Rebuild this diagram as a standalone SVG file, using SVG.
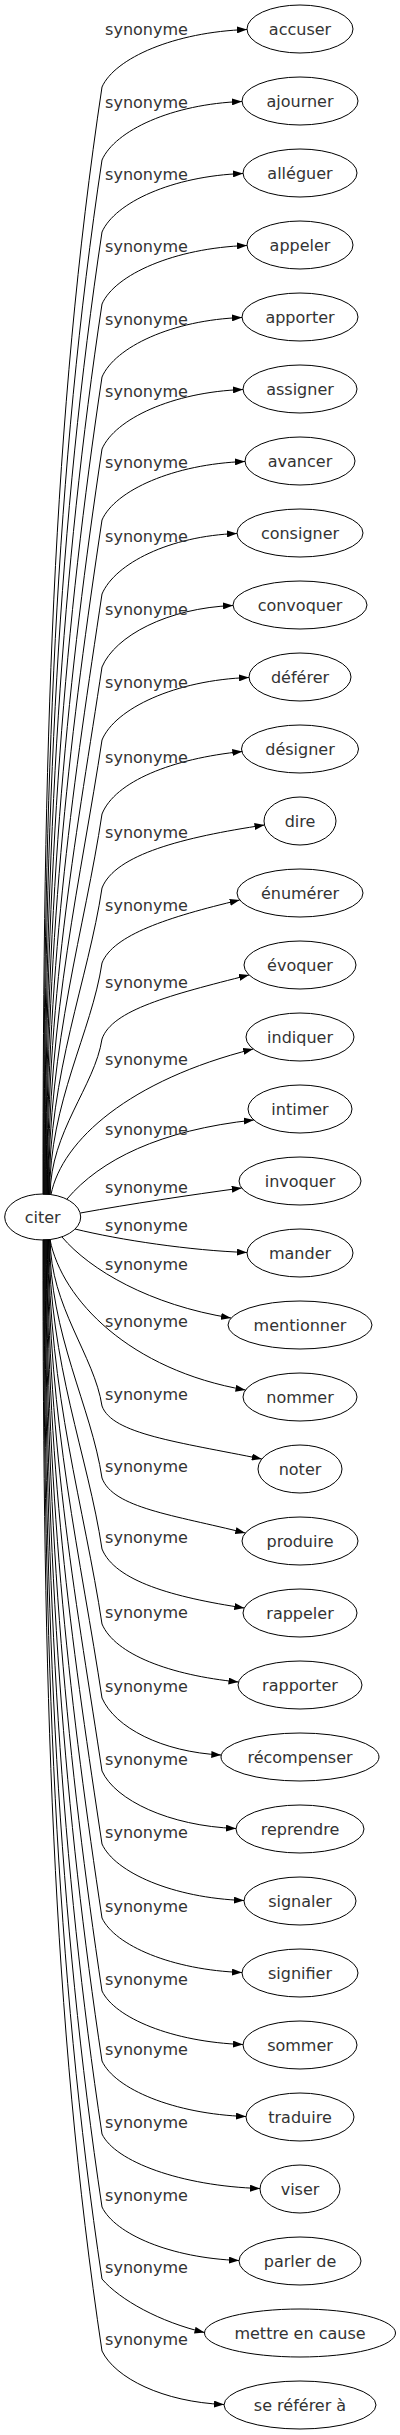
<svg xmlns="http://www.w3.org/2000/svg" width="400" height="2435" viewBox="0 0 400 2435">
<style>
.n{fill:none;stroke:#000;stroke-width:1}
.e{fill:none;stroke:#000;stroke-width:1;marker-end:url(#ah)}
text{font-family:"DejaVu Sans","Liberation Sans",sans-serif;font-size:16px;fill:#333;text-anchor:middle}
</style>
<defs>
<marker id="ah" markerWidth="10" markerHeight="7" refX="10" refY="3.5" orient="auto" markerUnits="userSpaceOnUse"><path d="M0,0 L10,3.5 L0,7 z" fill="#000"/></marker>
</defs>
<rect width="400" height="2435" fill="#fff"/>
<g id="edges">
<path class="e" d="M43,1194.5 C43,751.5 52.2,419 102,87 C115,58 174.5,32 247,29.5"/>
<path class="e" d="M43.6,1194.5 C43.6,780.7 55.4,470.4 102,160 C115,130.5 172,104 242,101.5"/>
<path class="e" d="M44.1,1194.5 C44.1,809.5 58.7,520.8 102,232 C115,202.5 172.5,176 243,173.5"/>
<path class="e" d="M44.7,1194.5 C44.7,838.3 61.9,571.2 102,304 C115,274.5 174.5,248 247,245.5"/>
<path class="e" d="M45.2,1194.5 C45.2,867.5 65.2,622.3 102,377 C115,347 172,320 242,317.5"/>
<path class="e" d="M45.8,1194.5 C45.8,896.3 68.5,672.7 102,449 C115,419 172.5,392 243,389.5"/>
<path class="e" d="M46.3,1194.5 C46.3,924.7 71.6,722.4 102,520 C115,490.5 173.5,464 245,461.5"/>
<path class="e" d="M46.9,1194.5 C46.9,954.3 75,774.2 102,594 C115,563.5 169.5,536 237,533.5"/>
<path class="e" d="M47.4,1194.5 C47.4,983.5 78.3,825.3 102,667 C115,636 167.5,608 233,605.5"/>
<path class="e" d="M48,1194.5 C48,1012.7 81.5,876.4 102,740 C115,708.5 175.5,680 249,677.5"/>
<path class="e" d="M48.5,1194.5 C48.5,1042.3 84.9,928.2 102,814 C115,781.5 172.2,758.5 242.3,751.5"/>
<path class="e" d="M49.1,1194.5 C49.1,1071.9 88.2,980 102,888 C115,854.5 183.3,837.2 264.5,825"/>
<path class="e" d="M49.6,1194.5 C49.6,1101.9 91.6,1032.5 102,963 C113,935 168,917 239.7,900"/>
<path class="e" d="M50.2,1194.5 C50.2,1132.3 95,1085.7 102,1039 C112,1010 170,995 249,975"/>
<path class="e" d="M51,1194.5 C62,1140 130,1080 253.2,1049"/>
<path class="e" d="M67,1199 C100,1160 160,1130 253.8,1120"/>
<path class="e" d="M80.4,1213 C130,1204 190,1195 241.7,1188"/>
<path class="e" d="M75,1229 C120,1240 190,1250.5 247,1252.5"/>
<path class="e" d="M62,1237 C90,1270 150,1305 231,1318"/>
<path class="e" d="M50,1239.6 C62,1300 130,1370 245.5,1390"/>
<path class="e" d="M50.2,1239.5 C50.2,1306.1 94.5,1356 102,1406 C112,1434 178,1442 261.8,1459"/>
<path class="e" d="M49.6,1239.5 C49.6,1334.9 91.3,1406.4 102,1478 C113,1508 173.7,1515 245.3,1533"/>
<path class="e" d="M49.1,1239.5 C49.1,1363.3 88.1,1456.1 102,1549 C115,1581 173.2,1597.3 244.3,1608"/>
<path class="e" d="M48.5,1239.5 C48.5,1393.3 84.7,1508.6 102,1624 C115,1654.5 170.3,1675.2 238.5,1682"/>
<path class="e" d="M48,1239.5 C48,1422.9 81.4,1560.4 102,1698 C115,1727.5 161.7,1752 221.3,1755"/>
<path class="e" d="M47.4,1239.5 C47.4,1452.1 78.1,1611.5 102,1771 C115,1800 169,1826 236,1828.5"/>
<path class="e" d="M46.9,1239.5 C46.9,1481.3 74.8,1662.6 102,1844 C115,1872.5 173,1898 244,1900.5"/>
<path class="e" d="M46.3,1239.5 C46.3,1510.9 71.5,1714.4 102,1918 C115,1945.5 172,1970 242,1972.5"/>
<path class="e" d="M45.8,1239.5 C45.8,1540.1 68.2,1765.5 102,1991 C115,2018 172.5,2042 243,2044.5"/>
<path class="e" d="M45.2,1239.5 C45.2,1568.1 65,1814.5 102,2061 C115,2089 174,2114 246,2116.5"/>
<path class="e" d="M44.7,1239.5 C44.7,1597.3 61.7,1865.6 102,2134 C115,2161.5 181,2186 260,2188.5"/>
<path class="e" d="M44.1,1239.5 C44.1,1626.5 58.5,1916.7 102,2207 C115,2234 170.5,2258 239,2260.5"/>
<path class="e" d="M43.6,1239.5 C43.6,1655.3 55.2,1967.1 102,2279 C120,2300 160,2322 204.5,2332.5"/>
<path class="e" d="M43,1239.5 C43,1684.1 52,2017.5 102,2351 C115,2378 163,2402 224,2404.5"/>
<g id="edge-labels">
<text x="146.5" y="34.5">synonyme</text>
<text x="146.5" y="107.5">synonyme</text>
<text x="146.5" y="179.5">synonyme</text>
<text x="146.5" y="251.5">synonyme</text>
<text x="146.5" y="324.5">synonyme</text>
<text x="146.5" y="396.5">synonyme</text>
<text x="146.5" y="467.5">synonyme</text>
<text x="146.5" y="541.5">synonyme</text>
<text x="146.5" y="614.5">synonyme</text>
<text x="146.5" y="687.5">synonyme</text>
<text x="146.5" y="762.5">synonyme</text>
<text x="146.5" y="837.5">synonyme</text>
<text x="146.5" y="911">synonyme</text>
<text x="146.5" y="987.5">synonyme</text>
<text x="146.5" y="1064.5">synonyme</text>
<text x="146.5" y="1134.5">synonyme</text>
<text x="146.5" y="1192.5">synonyme</text>
<text x="146.5" y="1230.5">synonyme</text>
<text x="146.5" y="1269.5">synonyme</text>
<text x="146.5" y="1326.5">synonyme</text>
<text x="146.5" y="1399.5">synonyme</text>
<text x="146.5" y="1471.5">synonyme</text>
<text x="146.5" y="1542.5">synonyme</text>
<text x="146.5" y="1617.5">synonyme</text>
<text x="146.5" y="1691.5">synonyme</text>
<text x="146.5" y="1764.5">synonyme</text>
<text x="146.5" y="1837.5">synonyme</text>
<text x="146.5" y="1911.5">synonyme</text>
<text x="146.5" y="1984.5">synonyme</text>
<text x="146.5" y="2054.5">synonyme</text>
<text x="146.5" y="2127.5">synonyme</text>
<text x="146.5" y="2200.5">synonyme</text>
<text x="146.5" y="2272.5">synonyme</text>
<text x="146.5" y="2344.5">synonyme</text>
</g>
</g>
<g id="node-citer"><ellipse class="n" cx="42.7" cy="1217" rx="38" ry="23"/><text x="42.7" y="1222.5">citer</text></g>
<g id="node-accuser"><ellipse class="n" cx="300" cy="29" rx="53" ry="24"/><text x="300" y="34.5">accuser</text></g>
<g id="node-ajourner"><ellipse class="n" cx="300" cy="101" rx="58" ry="24"/><text x="300" y="106.5">ajourner</text></g>
<g id="node-alleguer"><ellipse class="n" cx="300" cy="173" rx="57" ry="24"/><text x="300" y="178.5">alléguer</text></g>
<g id="node-appeler"><ellipse class="n" cx="300" cy="245" rx="53" ry="24"/><text x="300" y="250.5">appeler</text></g>
<g id="node-apporter"><ellipse class="n" cx="300" cy="317" rx="58" ry="24"/><text x="300" y="322.5">apporter</text></g>
<g id="node-assigner"><ellipse class="n" cx="300" cy="389" rx="57" ry="24"/><text x="300" y="394.5">assigner</text></g>
<g id="node-avancer"><ellipse class="n" cx="300" cy="461" rx="55" ry="24"/><text x="300" y="466.5">avancer</text></g>
<g id="node-consigner"><ellipse class="n" cx="300" cy="533" rx="63" ry="24"/><text x="300" y="538.5">consigner</text></g>
<g id="node-convoquer"><ellipse class="n" cx="300" cy="605" rx="67" ry="24"/><text x="300" y="610.5">convoquer</text></g>
<g id="node-deferer"><ellipse class="n" cx="300" cy="677" rx="51" ry="24"/><text x="300" y="682.5">déférer</text></g>
<g id="node-designer"><ellipse class="n" cx="300" cy="749" rx="58.5" ry="24"/><text x="300" y="754.5">désigner</text></g>
<g id="node-dire"><ellipse class="n" cx="300" cy="821" rx="36" ry="24"/><text x="300" y="826.5">dire</text></g>
<g id="node-enumerer"><ellipse class="n" cx="300" cy="893" rx="63" ry="24"/><text x="300" y="898.5">énumérer</text></g>
<g id="node-evoquer"><ellipse class="n" cx="300" cy="965" rx="56" ry="24"/><text x="300" y="970.5">évoquer</text></g>
<g id="node-indiquer"><ellipse class="n" cx="300" cy="1037" rx="54" ry="24"/><text x="300" y="1042.5">indiquer</text></g>
<g id="node-intimer"><ellipse class="n" cx="300" cy="1109" rx="52" ry="24"/><text x="300" y="1114.5">intimer</text></g>
<g id="node-invoquer"><ellipse class="n" cx="300" cy="1181" rx="61" ry="24"/><text x="300" y="1186.5">invoquer</text></g>
<g id="node-mander"><ellipse class="n" cx="300" cy="1253" rx="53" ry="24"/><text x="300" y="1258.5">mander</text></g>
<g id="node-mentionner"><ellipse class="n" cx="300" cy="1325" rx="72" ry="24"/><text x="300" y="1330.5">mentionner</text></g>
<g id="node-nommer"><ellipse class="n" cx="300" cy="1397" rx="57" ry="24"/><text x="300" y="1402.5">nommer</text></g>
<g id="node-noter"><ellipse class="n" cx="300" cy="1469" rx="42" ry="24"/><text x="300" y="1474.5">noter</text></g>
<g id="node-produire"><ellipse class="n" cx="300" cy="1541" rx="58" ry="24"/><text x="300" y="1546.5">produire</text></g>
<g id="node-rappeler"><ellipse class="n" cx="300" cy="1613" rx="57" ry="24"/><text x="300" y="1618.5">rappeler</text></g>
<g id="node-rapporter"><ellipse class="n" cx="300" cy="1685" rx="62" ry="24"/><text x="300" y="1690.5">rapporter</text></g>
<g id="node-recompenser"><ellipse class="n" cx="300" cy="1757" rx="79" ry="24"/><text x="300" y="1762.5">récompenser</text></g>
<g id="node-reprendre"><ellipse class="n" cx="300" cy="1829" rx="64" ry="24"/><text x="300" y="1834.5">reprendre</text></g>
<g id="node-signaler"><ellipse class="n" cx="300" cy="1901" rx="56" ry="24"/><text x="300" y="1906.5">signaler</text></g>
<g id="node-signifier"><ellipse class="n" cx="300" cy="1973" rx="58" ry="24"/><text x="300" y="1978.5">signifier</text></g>
<g id="node-sommer"><ellipse class="n" cx="300" cy="2045" rx="57" ry="24"/><text x="300" y="2050.5">sommer</text></g>
<g id="node-traduire"><ellipse class="n" cx="300" cy="2117" rx="54" ry="24"/><text x="300" y="2122.5">traduire</text></g>
<g id="node-viser"><ellipse class="n" cx="300" cy="2189" rx="40" ry="24"/><text x="300" y="2194.5">viser</text></g>
<g id="node-parler-de"><ellipse class="n" cx="300" cy="2261" rx="61" ry="24"/><text x="300" y="2266.5">parler de</text></g>
<g id="node-mettre-en-cause"><ellipse class="n" cx="300" cy="2333" rx="95.5" ry="24"/><text x="300" y="2338.5">mettre en cause</text></g>
<g id="node-se-referer-a"><ellipse class="n" cx="300" cy="2405" rx="76" ry="24"/><text x="300" y="2410.5">se référer à</text></g>
</svg>
